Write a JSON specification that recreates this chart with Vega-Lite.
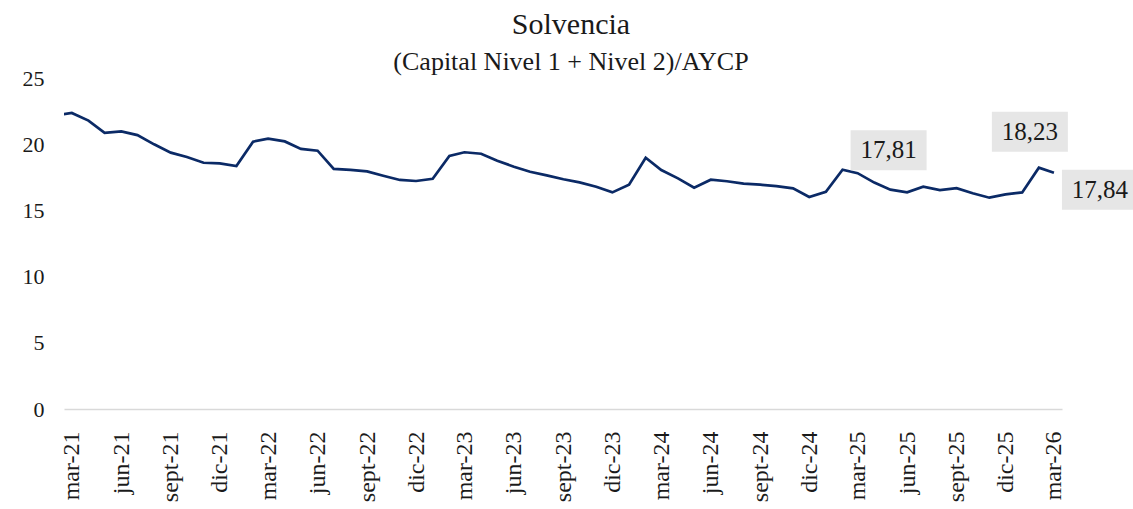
{
  "$schema": "https://vega.github.io/schema/vega-lite/v6.json",
  "autosize": "none",
  "width": 998,
  "height": 331,
  "padding": {"left": 64, "top": 78, "right": 71, "bottom": 100},
  "background": "white",
  "config": {
    "view": {"stroke": null},
    "font": "Liberation Serif"
  },
  "title": {
    "text": "Solvencia",
    "subtitle": "(Capital Nivel 1 + Nivel 2)/AYCP",
    "anchor": "middle",
    "frame": "group",
    "dx": 8,
    "offset": -8,
    "font": "Liberation Serif",
    "fontSize": 30,
    "fontWeight": "normal",
    "color": "#1a1a1a",
    "subtitleFont": "Liberation Serif",
    "subtitleFontSize": 26,
    "subtitleColor": "#1a1a1a",
    "subtitlePadding": 9
  },
  "data": {
    "values": [
      {"date": "2021-02-01", "v": 22.2},
      {"date": "2021-03-01", "v": 22.36},
      {"date": "2021-04-01", "v": 21.78},
      {"date": "2021-05-01", "v": 20.85},
      {"date": "2021-06-01", "v": 20.97},
      {"date": "2021-07-01", "v": 20.69},
      {"date": "2021-08-01", "v": 19.99},
      {"date": "2021-09-01", "v": 19.36},
      {"date": "2021-10-01", "v": 19.03},
      {"date": "2021-11-01", "v": 18.6},
      {"date": "2021-12-01", "v": 18.55},
      {"date": "2022-01-01", "v": 18.35},
      {"date": "2022-02-01", "v": 20.19},
      {"date": "2022-03-01", "v": 20.42},
      {"date": "2022-04-01", "v": 20.21},
      {"date": "2022-05-01", "v": 19.64},
      {"date": "2022-06-01", "v": 19.51},
      {"date": "2022-07-01", "v": 18.13},
      {"date": "2022-08-01", "v": 18.06},
      {"date": "2022-09-01", "v": 17.95},
      {"date": "2022-10-01", "v": 17.62},
      {"date": "2022-11-01", "v": 17.3},
      {"date": "2022-12-01", "v": 17.22},
      {"date": "2023-01-01", "v": 17.39},
      {"date": "2023-02-01", "v": 19.11},
      {"date": "2023-03-01", "v": 19.39},
      {"date": "2023-04-01", "v": 19.28},
      {"date": "2023-05-01", "v": 18.75},
      {"date": "2023-06-01", "v": 18.3},
      {"date": "2023-07-01", "v": 17.92},
      {"date": "2023-08-01", "v": 17.65},
      {"date": "2023-09-01", "v": 17.35},
      {"date": "2023-10-01", "v": 17.12},
      {"date": "2023-11-01", "v": 16.79},
      {"date": "2023-12-01", "v": 16.36},
      {"date": "2024-01-01", "v": 16.94},
      {"date": "2024-02-01", "v": 18.98},
      {"date": "2024-03-01", "v": 18.05},
      {"date": "2024-04-01", "v": 17.42},
      {"date": "2024-05-01", "v": 16.72},
      {"date": "2024-06-01", "v": 17.32},
      {"date": "2024-07-01", "v": 17.2},
      {"date": "2024-08-01", "v": 17.02},
      {"date": "2024-09-01", "v": 16.94},
      {"date": "2024-10-01", "v": 16.84},
      {"date": "2024-11-01", "v": 16.67},
      {"date": "2024-12-01", "v": 16.01},
      {"date": "2025-01-01", "v": 16.41},
      {"date": "2025-02-01", "v": 18.07},
      {"date": "2025-03-01", "v": 17.81, "label": "17,81"},
      {"date": "2025-04-01", "v": 17.1},
      {"date": "2025-05-01", "v": 16.57},
      {"date": "2025-06-01", "v": 16.37},
      {"date": "2025-07-01", "v": 16.79},
      {"date": "2025-08-01", "v": 16.53},
      {"date": "2025-09-01", "v": 16.68},
      {"date": "2025-10-01", "v": 16.29},
      {"date": "2025-11-01", "v": 15.96},
      {"date": "2025-12-01", "v": 16.21},
      {"date": "2026-01-01", "v": 16.36},
      {"date": "2026-02-01", "v": 18.23, "label": "18,23"},
      {"date": "2026-03-01", "v": 17.84, "label": "17,84"}
    ]
  },
  "encoding": {
    "x": {
      "field": "date",
      "type": "temporal",
      "scale": {
        "type": "utc",
        "domain": [
          {"year": 2021, "month": 2, "date": 14, "hours": 12, "utc": true},
          {"year": 2026, "month": 3, "date": 16, "utc": true}
        ]
      },
      "axis": {
        "title": null,
        "grid": false,
        "ticks": false,
        "domain": true,
        "domainColor": "#d9d9d9",
        "domainWidth": 1.6,
        "labelAngle": -90,
        "labelAlign": "right",
        "labelBaseline": "middle",
        "labelPadding": 22,
        "labelFont": "Liberation Serif",
        "labelFontSize": 24,
        "labelColor": "#1a1a1a",
        "labelOverlap": false,
        "labelFlush": false,
        "values": [
          {"year": 2021, "month": 3, "date": 1, "utc": true},
          {"year": 2021, "month": 6, "date": 1, "utc": true},
          {"year": 2021, "month": 9, "date": 1, "utc": true},
          {"year": 2021, "month": 12, "date": 1, "utc": true},
          {"year": 2022, "month": 3, "date": 1, "utc": true},
          {"year": 2022, "month": 6, "date": 1, "utc": true},
          {"year": 2022, "month": 9, "date": 1, "utc": true},
          {"year": 2022, "month": 12, "date": 1, "utc": true},
          {"year": 2023, "month": 3, "date": 1, "utc": true},
          {"year": 2023, "month": 6, "date": 1, "utc": true},
          {"year": 2023, "month": 9, "date": 1, "utc": true},
          {"year": 2023, "month": 12, "date": 1, "utc": true},
          {"year": 2024, "month": 3, "date": 1, "utc": true},
          {"year": 2024, "month": 6, "date": 1, "utc": true},
          {"year": 2024, "month": 9, "date": 1, "utc": true},
          {"year": 2024, "month": 12, "date": 1, "utc": true},
          {"year": 2025, "month": 3, "date": 1, "utc": true},
          {"year": 2025, "month": 6, "date": 1, "utc": true},
          {"year": 2025, "month": 9, "date": 1, "utc": true},
          {"year": 2025, "month": 12, "date": 1, "utc": true},
          {"year": 2026, "month": 3, "date": 1, "utc": true}
        ],
        "labelExpr": "['ene','feb','mar','abr','may','jun','jul','ago','sept','oct','nov','dic'][utcmonth(datum.value)] + '-' + utcFormat(datum.value, '%y')"
      }
    },
    "y": {
      "field": "v",
      "type": "quantitative",
      "scale": {"domain": [0, 25], "nice": false, "zero": true},
      "axis": {
        "title": null,
        "grid": false,
        "ticks": false,
        "domain": false,
        "values": [0, 5, 10, 15, 20, 25],
        "labelPadding": 20,
        "labelFont": "Liberation Serif",
        "labelFontSize": 22,
        "labelColor": "#1a1a1a"
      }
    }
  },
  "layer": [
    {
      "mark": {"type": "line", "color": "#0b2a66", "strokeWidth": 2.7, "clip": true, "strokeJoin": "miter"}
    },
    {
      "transform": [{"filter": "datum.label == '17,81'"}],
      "layer": [
        {"mark": {"type": "point", "shape": "M-0.95,-0.5H0.95V0.5H-0.95Z", "size": 6400, "filled": true, "fill": "#e6e6e6", "opacity": 1, "strokeWidth": 0, "xOffset": 31, "yOffset": -23}},
        {"mark": {"type": "text", "fontSize": 25, "font": "Liberation Serif", "color": "#1a1a1a", "xOffset": 31, "yOffset": -23, "baseline": "middle", "align": "center"}, "encoding": {"text": {"field": "label"}}}
      ]
    },
    {
      "transform": [{"filter": "datum.label == '18,23'"}],
      "layer": [
        {"mark": {"type": "point", "shape": "M-0.95,-0.5H0.95V0.5H-0.95Z", "size": 6400, "filled": true, "fill": "#e6e6e6", "opacity": 1, "strokeWidth": 0, "xOffset": -9, "yOffset": -36}},
        {"mark": {"type": "text", "fontSize": 25, "font": "Liberation Serif", "color": "#1a1a1a", "xOffset": -9, "yOffset": -36, "baseline": "middle", "align": "center"}, "encoding": {"text": {"field": "label"}}}
      ]
    },
    {
      "transform": [{"filter": "datum.label == '17,84'"}],
      "layer": [
        {"mark": {"type": "point", "shape": "M-0.95,-0.5H0.95V0.5H-0.95Z", "size": 6400, "filled": true, "fill": "#e6e6e6", "opacity": 1, "strokeWidth": 0, "xOffset": 46, "yOffset": 17}},
        {"mark": {"type": "text", "fontSize": 25, "font": "Liberation Serif", "color": "#1a1a1a", "xOffset": 46, "yOffset": 17, "baseline": "middle", "align": "center"}, "encoding": {"text": {"field": "label"}}}
      ]
    }
  ]
}
